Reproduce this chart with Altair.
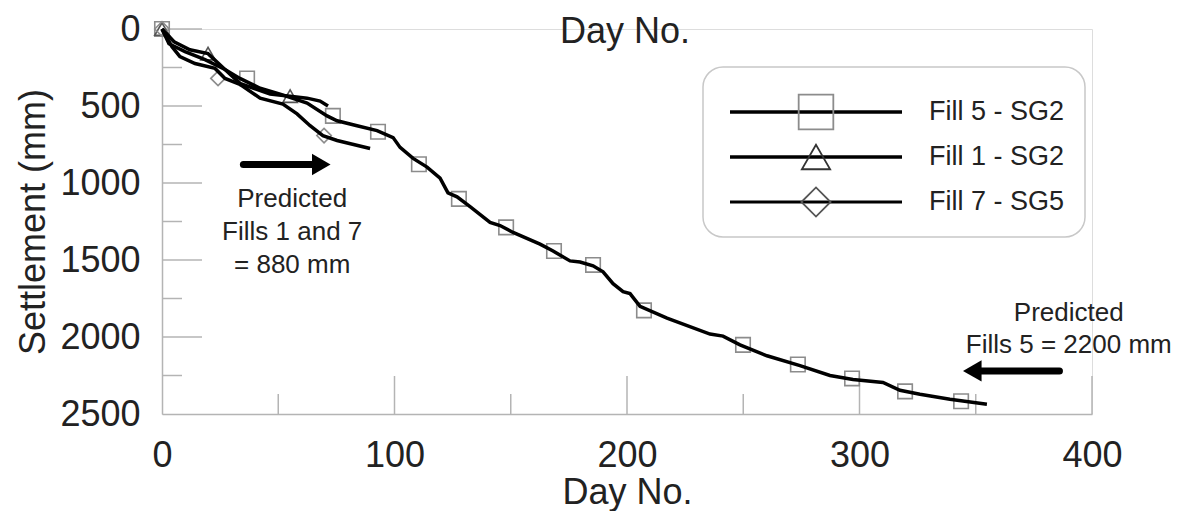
import altair as alt
import pandas as pd

FONT = "Liberation Sans"

series_names = ["Fill 5 - SG2", "Fill 1 - SG2", "Fill 7 - SG5"]

# Fill 5 - SG2 (line trace)
f5_day = [0, 3.0, 9.9, 18.5, 27.1, 33.5, 42.2, 50.8, 62.4, 71.0, 75.3, 83.9, 92.5, 99.4,
          102.4, 108.0, 114.0, 119.6, 123.0, 126.9, 132.5, 141.1, 145.4, 151.0, 162.6,
          168.2, 175.5, 179.8, 185.4, 189.7, 194.0, 198.3, 201.3, 205.6, 217.2, 235.7,
          241.3, 248.6, 260.2, 274.4, 287.3, 297.2, 310.1, 317.4, 326.0, 338.9, 354.8]
f5_set = [0, 96, 147, 199, 263, 321, 385, 423, 481, 564, 596, 628, 660, 705,
          769, 840, 897, 968, 1064, 1090, 1154, 1256, 1276, 1321, 1397,
          1442, 1506, 1513, 1538, 1577, 1654, 1705, 1718, 1801, 1878, 1981,
          1994, 2051, 2122, 2186, 2250, 2276, 2295, 2346, 2372, 2404, 2436]
# Fill 5 - SG2 markers
f5_mk_day = [0, 36.6, 73.5, 92.9, 110.5, 127.7, 148.0, 168.6, 185.4, 207.3, 249.9,
             273.5, 296.8, 319.6, 343.7]
f5_mk_set = [0, 321, 564, 667, 878, 1103, 1288, 1442, 1532, 1827, 2051,
             2179, 2269, 2353, 2417]

# Fill 1 - SG2
f1_day = [0, 5.2, 12.0, 19.8, 27.1, 33.5, 46.5, 55.1, 62.4, 68.0, 71.4]
f1_set = [0, 83, 135, 160, 263, 353, 423, 436, 449, 468, 500]
f1_mk_day = [0, 19.8, 55.1]
f1_mk_set = [0, 160, 436]

# Fill 7 - SG5
f7_day = [0, 4.3, 7.7, 14.2, 22.8, 27.1, 33.5, 42.2, 52.0, 58.1, 63.7, 69.2, 75.3, 89.5]
f7_set = [0, 115, 179, 224, 256, 321, 359, 449, 487, 551, 628, 692, 724, 776]
f7_mk_day = [0, 24.1, 69.7]
f7_mk_set = [0, 321, 692]

x_major = [0, 100, 200, 300, 400]
x_minor = [50, 150, 250, 350]
y_major = [0, 500, 1000, 1500, 2000, 2500]
y_minor = [250, 750, 1250, 1750, 2250]

# annotations
ann1_lines = ["Predicted", "Fills 1 and 7", "= 880 mm"]
ann1_day = [56, 56, 56]
ann1_set = [1103, 1321, 1532]
ann2_lines = ["Predicted", "Fills 5 = 2200 mm"]
ann2_day = [390, 390]
ann2_set = [1846, 2051]
arrow1 = {"d0": 35, "d1": 66, "head": 68.5, "s": 880}
arrow2 = {"d0": 386, "d1": 352, "head": 348.5, "s": 2220}

W, H = 930, 385

lines_df = pd.concat([
    pd.DataFrame({"day": f5_day, "settle": f5_set, "series": series_names[0]}),
    pd.DataFrame({"day": f1_day, "settle": f1_set, "series": series_names[1]}),
    pd.DataFrame({"day": f7_day, "settle": f7_set, "series": series_names[2]}),
], ignore_index=True)
lines_df["ord"] = range(len(lines_df))

marks_df = pd.concat([
    pd.DataFrame({"day": f5_mk_day, "settle": f5_mk_set, "series": series_names[0]}),
    pd.DataFrame({"day": f1_mk_day, "settle": f1_mk_set, "series": series_names[1]}),
    pd.DataFrame({"day": f7_mk_day, "settle": f7_mk_set, "series": series_names[2]}),
], ignore_index=True)

xscale = alt.Scale(domain=[0, 400], nice=False)
yscale = alt.Scale(domain=[0, 2500], reverse=True, nice=False)

axis_common = dict(grid=False, ticks=False, tickSize=0, domainColor="#b4b4b4", domainWidth=1.5,
                   labelFont=FONT, labelFontSize=36, labelColor="#222222", format="d",
                   titleFont=FONT, titleFontSize=36, titleFontWeight="normal",
                   titleColor="#222222", labelOverlap=False, labelFlush=False)

X = alt.X("day:Q", scale=xscale,
          axis=alt.Axis(values=x_major, labelPadding=24, title="Day No.", titlePadding=2, **axis_common))
Y = alt.Y("settle:Q", scale=yscale,
          axis=alt.Axis(values=y_major, labelPadding=22, title="Settlement (mm)", titlePadding=7,
                        **axis_common))

base_lines = alt.Chart(lines_df).mark_line(color="black").encode(
    x=X, y=Y, detail="series:N", order="ord:Q",
    strokeWidth=alt.StrokeWidth("series:N", scale=alt.Scale(domain=series_names, range=[3.5, 3.5, 3]),
                                legend=None),
)

points = alt.Chart(marks_df).mark_point(filled=False, strokeWidth=1.6, opacity=1).encode(
    x=alt.X("day:Q", scale=xscale), y=alt.Y("settle:Q", scale=yscale),
    shape=alt.Shape("series:N", scale=alt.Scale(domain=series_names,
                                                range=["square", "triangle-up", "diamond"]), legend=None),
    stroke=alt.Stroke("series:N", scale=alt.Scale(domain=series_names,
                                                  range=["#8c8c8c", "#555555", "#8c8c8c"]), legend=None),
    size=alt.value(210),
)

# inward tick marks
tick_col = "#b4b4b4"
yt_major = alt.Chart(pd.DataFrame({"settle": y_major[:-1]})).mark_rule(color=tick_col, strokeWidth=1.5).encode(
    y=alt.Y("settle:Q", scale=yscale), x=alt.value(0), x2=alt.value(40))
yt_minor = alt.Chart(pd.DataFrame({"settle": y_minor})).mark_rule(color=tick_col, strokeWidth=1.5).encode(
    y=alt.Y("settle:Q", scale=yscale), x=alt.value(0), x2=alt.value(20))
xt_major = alt.Chart(pd.DataFrame({"day": x_major[1:]})).mark_rule(color=tick_col, strokeWidth=1.5).encode(
    x=alt.X("day:Q", scale=xscale), y=alt.value(H), y2=alt.value(H - 38))
xt_minor = alt.Chart(pd.DataFrame({"day": x_minor})).mark_rule(color=tick_col, strokeWidth=1.5).encode(
    x=alt.X("day:Q", scale=xscale), y=alt.value(H), y2=alt.value(H - 20))

# top title
top_title = alt.Chart(pd.DataFrame({"t": ["Day No."]})).mark_text(
    font=FONT, fontSize=36, color="#222222", align="center", baseline="alphabetic").encode(
    text="t:N", x=alt.value(W / 2 - 2), y=alt.value(14))

# annotations
ann1 = alt.Chart(pd.DataFrame({"t": ann1_lines, "day": ann1_day, "settle": ann1_set})).mark_text(
    font=FONT, fontSize=26, color="#222222", align="center", baseline="middle").encode(
    x=alt.X("day:Q", scale=xscale), y=alt.Y("settle:Q", scale=yscale), text="t:N")
ann2 = alt.Chart(pd.DataFrame({"t": ann2_lines, "day": ann2_day, "settle": ann2_set})).mark_text(
    font=FONT, fontSize=26, color="#222222", align="center", baseline="middle").encode(
    x=alt.X("day:Q", scale=xscale), y=alt.Y("settle:Q", scale=yscale), text="t:N")


def arrow(a, shape):
    shaft = alt.Chart(pd.DataFrame({"d0": [a["d0"]], "d1": [a["d1"]], "s": [a["s"]]})).mark_rule(
        color="black", strokeWidth=7, strokeCap="round").encode(
        x=alt.X("d0:Q", scale=xscale), x2="d1:Q", y=alt.Y("s:Q", scale=yscale))
    head = alt.Chart(pd.DataFrame({"d": [a["head"]], "s": [a["s"]]})).mark_point(
        shape=shape, filled=True, color="black", size=460, opacity=1).encode(
        x=alt.X("d:Q", scale=xscale), y=alt.Y("s:Q", scale=yscale))
    return shaft + head


arr1 = arrow(arrow1, "triangle-right")
arr2 = arrow(arrow2, "triangle-left")

# legend (manual)
leg_layers = []
box = alt.Chart(pd.DataFrame({"a": [0]})).mark_rect(
    fill="white", stroke="#c8c8c8", strokeWidth=1.5, cornerRadius=20).encode(
    x=alt.value(541), x2=alt.value(923), y=alt.value(38), y2=alt.value(208))
leg_layers.append(box)
row_y = [83, 128, 173]
leg_shapes = ["square", "triangle-up", "diamond"]
leg_strokes = ["#8c8c8c", "#333333", "#555555"]
leg_sizes = [1200, 800, 850]
leg_lw = [3.5, 3.5, 3]
for i, name in enumerate(series_names):
    d = pd.DataFrame({"series": [name]})
    leg_layers.append(alt.Chart(d).mark_rule(color="black", strokeWidth=leg_lw[i]).encode(
        x=alt.value(568), x2=alt.value(740), y=alt.value(row_y[i])))
    leg_layers.append(alt.Chart(d).mark_point(shape=leg_shapes[i], filled=False, stroke=leg_strokes[i],
                                              strokeWidth=1.8, size=leg_sizes[i], opacity=1).encode(
        x=alt.value(654), y=alt.value(row_y[i])))
    leg_layers.append(alt.Chart(d).mark_text(font=FONT, fontSize=27, color="#222222", align="left",
                                             baseline="middle").encode(
        text="series:N", x=alt.value(767), y=alt.value(row_y[i])))

chart = alt.layer(
    yt_major, yt_minor, xt_major, xt_minor,
    points, base_lines,
    top_title, ann1, ann2, arr1, arr2,
    *leg_layers,
).properties(
    width=W, height=H,
    autosize=alt.AutoSizeParams(type="none"),
    padding={"left": 154, "top": 21, "right": 85, "bottom": 97},
).configure_view(stroke=None).configure(background="white")

chart.save("out.html", embed_options={"renderer": "svg", "actions": False})
